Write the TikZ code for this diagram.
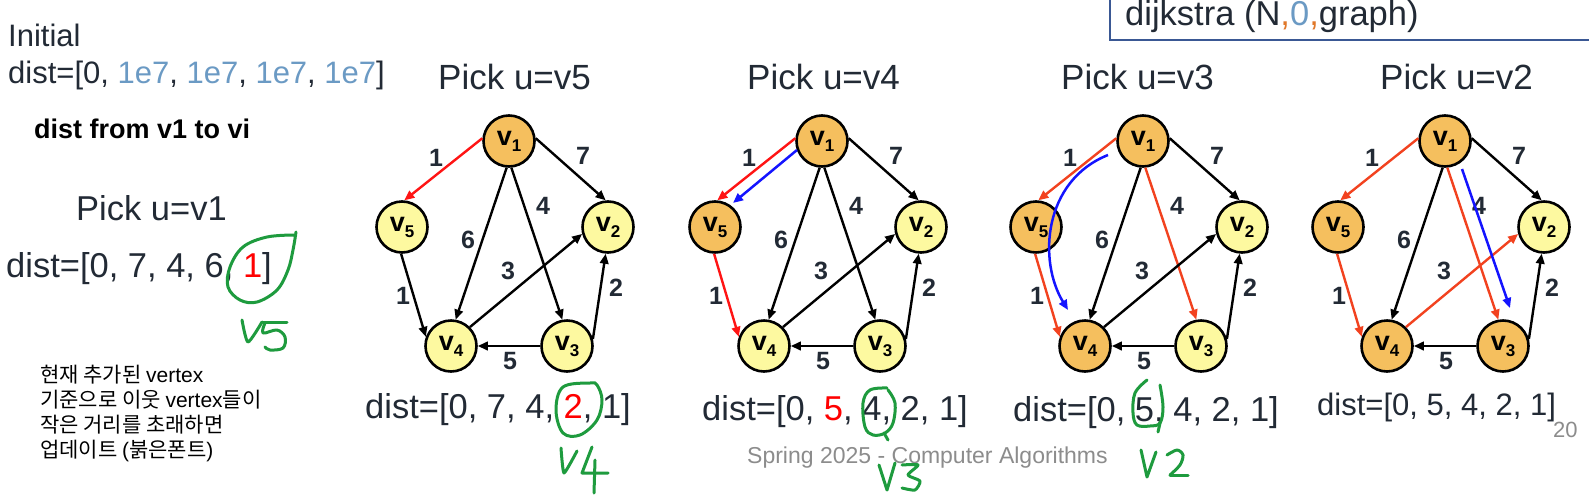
\documentclass[tikz,border=0pt]{standalone}
\usepackage{fontspec}
\setmainfont{Liberation Sans}
\newfontfamily\krfont{Noto Sans CJK KR}
\usetikzlibrary{arrows.meta}

\definecolor{tdark}{HTML}{222A35}
\definecolor{blueE}{HTML}{6B9AC4}
\definecolor{corange}{HTML}{E0782A}
\definecolor{boxblue}{HTML}{3A5894}
\definecolor{vyellow}{HTML}{FDF9A0}
\definecolor{vorange}{HTML}{F5BF5E}
\definecolor{ered}{HTML}{FF1414}
\definecolor{ered2}{HTML}{F2421F}
\definecolor{eblue}{HTML}{1414FF}
\definecolor{hgreen}{HTML}{1E9B3E}
\definecolor{fgray}{HTML}{8C8C8C}

\newcommand\vl[1]{v\raisebox{-6pt}{\fontsize{17}{17}\selectfont #1}}
\newcommand\lat[1]{{\normalfont #1}}

\tikzset{
  vtx/.style={circle, draw=black, line width=2.6pt, minimum size=51pt, inner sep=0pt,
    font=\bfseries\fontsize{27}{27}\selectfont},
  edge/.style={line width=2.4pt, -{Triangle[length=10pt,width=8.5pt]}},
  bluearr/.style={line width=2.5pt, draw=eblue, -{Triangle[length=10pt,width=8.5pt]}},
  wlab/.style={inner sep=0pt, font=\bfseries\fontsize{25}{25}\selectfont, text=tdark},
  txt/.style={anchor=base west, inner sep=0pt, text=tdark, font=\fontsize{34.5}{40}\selectfont},
  krtxt/.style={anchor=base west, inner sep=0pt, text=black, font=\krfont\fontsize{21}{24}\selectfont},
  hand/.style={draw=hgreen, line width=3pt, line cap=round, line join=round},
}

\newcommand\pentagraph[3]{%
\begin{scope}[shift={(#2,#3)}, name prefix=#1]
\node[vtx, fill=\fA] (v1) at (0,0) {\vl{1}};
\node[vtx, fill=\fB] (v2) at (99,86) {\vl{2}};
\node[vtx, fill=\fC] (v3) at (58,205) {\vl{3}};
\node[vtx, fill=\fD] (v4) at (-58,205) {\vl{4}};
\node[vtx, fill=\fE] (v5) at (-107,86) {\vl{5}};
\draw[edge, draw=\eA] (v1.174) -- (v5.85);
\draw[edge, draw=\eB] (v1.6) -- (v2.95);
\draw[edge, draw=\eC] (v1.265) -- (v4.80);
\draw[edge, draw=\eD] (v1.275) -- (v3.100);
\draw[edge, draw=\eE] (v5.268) -- (v4.160);
\draw[edge, draw=\eF] (v4.45) -- (v2.195);
\draw[edge, draw=\eG] (v3.15) -- (v2.265);
\draw[edge, draw=\eH] (v3.180) -- (v4.0);
\node[wlab] (w15) at (-73,17) {1};
\node[wlab] (w12) at (74,15) {7};
\node[wlab] (w14) at (-41,99) {6};
\node[wlab] (w13) at (34,65) {4};
\node[wlab] (w42) at (-1,130) {3};
\node[wlab] (w54) at (-106,155) {1};
\node[wlab] (w32) at (107,147) {2};
\node[wlab] (w34) at (1,220) {5};
\end{scope}}

\begin{document}
\begin{tikzpicture}[x=1pt, y=-1pt]
\fill[white] (0,0) rectangle (1589,498);
\useasboundingbox (0,0) rectangle (1589,498);

% top-right box
\draw[draw=boxblue, line width=2pt] (1110,-10) -- (1110,40) -- (1600,40);
\node[txt] (dij) at (1125,25) {dijkstra (N\textcolor{corange}{,}\textcolor{blueE}{0}\textcolor{corange}{,}graph)};

% left column
\node[txt, font=\fontsize{31}{36}\selectfont] (init) at (8,46) {Initial};
\node[txt, font=\fontsize{31}{36}\selectfont] (d0) at (8,83) {dist=[0, \textcolor{blueE}{1e7}, \textcolor{blueE}{1e7}, \textcolor{blueE}{1e7}, \textcolor{blueE}{1e7}]};
\node[txt, text=black, font=\bfseries\fontsize{27}{32}\selectfont] (dfrom) at (34,138) {dist from v1 to vi};
\node[txt] (p1) at (76,220) {Pick u=v1};
\node[txt] (d1) at (6,277) {dist=[0, 7, 4, 6, \textcolor{red}{1}]};
\node[krtxt] (k1) at (40,382) {현재 추가된 \lat{vertex}};
\node[krtxt] (k2) at (40,407) {기준으로 이웃 \lat{vertex}들이};
\node[krtxt] (k3) at (40,432) {작은 거리를 초래하면};
\node[krtxt] (k4) at (40,457) {업데이트 \lat{(}붉은폰트\lat{)}};

% titles
\node[txt, font=\fontsize{35}{40}\selectfont] (t1) at (438,89) {Pick u=v5};
\node[txt, font=\fontsize{35}{40}\selectfont] (t2) at (747,89) {Pick u=v4};
\node[txt, font=\fontsize{35}{40}\selectfont] (t3) at (1061,89) {Pick u=v3};
\node[txt, font=\fontsize{35}{40}\selectfont] (t4) at (1380,89) {Pick u=v2};

% graph 1
\def\fA{vorange}\def\fB{vyellow}\def\fC{vyellow}\def\fD{vyellow}\def\fE{vyellow}
\def\eA{ered}\def\eB{black}\def\eC{black}\def\eD{black}\def\eE{black}\def\eF{black}\def\eG{black}\def\eH{black}
\pentagraph{a-}{509}{141}
% graph 2
\def\fA{vorange}\def\fB{vyellow}\def\fC{vyellow}\def\fD{vyellow}\def\fE{vorange}
\def\eA{ered}\def\eB{black}\def\eC{black}\def\eD{black}\def\eE{ered}\def\eF{black}\def\eG{black}\def\eH{black}
\pentagraph{b-}{822}{141}
% graph 3
\def\fA{vorange}\def\fB{vyellow}\def\fC{vyellow}\def\fD{vorange}\def\fE{vorange}
\def\eA{ered2}\def\eB{black}\def\eC{black}\def\eD{ered2}\def\eE{ered2}\def\eF{black}\def\eG{black}\def\eH{black}
\pentagraph{c-}{1143}{141}
% graph 4
\def\fA{vorange}\def\fB{vyellow}\def\fC{vorange}\def\fD{vorange}\def\fE{vorange}
\def\eA{ered2}\def\eB{black}\def\eC{black}\def\eD{ered2}\def\eE{ered2}\def\eF{ered2}\def\eG{black}\def\eH{black}
\pentagraph{d-}{1445}{141}

% blue annotation arrows
\coordinate (b2s) at (797,150);
\coordinate (b2e) at (733,203);
\draw[bluearr] (b2s) -- (b2e);
\coordinate (b3s) at (1108,155);
\coordinate (b3e) at (1068,310);
\draw[bluearr] (b3s) .. controls (1043,181) and (1038,261) .. (b3e);
\coordinate (b4s) at (1462,169);
\coordinate (b4e) at (1510,308);
\draw[bluearr] (b4s) -- (b4e);

% dist lines
\node[txt] (dd1) at (365,418) {dist=[0, 7, 4, \textcolor{red}{2}, 1]};
\node[txt] (dd2) at (702,420) {dist=[0, \textcolor{red}{5}, 4, 2, 1]};
\node[txt] (dd3) at (1013,421) {dist=[0, 5, 4, 2, 1]};
\node[txt, font=\fontsize{31}{36}\selectfont] (dd4) at (1317,415) {dist=[0, 5, 4, 2, 1]};

% footer
\node[txt, text=fgray, font=\fontsize{23}{26}\selectfont] (foot) at (747,463) {Spring 2025 - Computer Algorithms};
\node[txt, text=fgray, font=\fontsize{22}{26}\selectfont] (pg) at (1553,437) {20};

% handwriting
\draw[hand] plot[smooth, tension=0.6] coordinates {(295,235) (267,237) (243,247) (230,267) (228,287) (240,300) (257,302) (277,290) (288,270) (293,250) (296,232)};
\draw[hand] plot[smooth, tension=0.4] coordinates {(242,320) (248,342) (262,322)};
\draw[hand] (263,322) -- (287,322);
\draw[hand] plot[smooth, tension=0.6] coordinates {(265,323) (263,333) (277,330) (285,337) (283,348) (270,350) (265,347)};

\draw[hand] plot[smooth cycle, tension=0.6] coordinates {(590,383) (563,387) (556,410) (563,433) (580,435) (597,420) (602,400) (597,385)};
\draw[hand] plot[smooth, tension=0.3] coordinates {(561,448) (564,473) (577,451)};
\draw[hand] (592,447) -- (582,473) -- (608,473);
\draw[hand] (595,460) -- (594,493);

\draw[hand] plot[smooth, tension=0.6] coordinates {(887,388) (870,390) (863,403) (865,427) (873,435) (885,433) (893,423) (895,403) (888,390)};
\draw[hand] (884,433) -- (888,440);
\draw[hand] (879,465) -- (887,490) -- (895,463);
\draw[hand] plot[smooth, tension=0.4] coordinates {(902,465) (918,465) (908,475) (920,481) (915,490) (902,488)};

\draw[hand] plot[smooth, tension=0.6] coordinates {(1147,380) (1135,393) (1133,413) (1137,425) (1150,426) (1160,423) (1163,407) (1160,385)};
\draw[hand] (1160,423) -- (1158,432);
\draw[hand] (1141,450) -- (1147,477) -- (1156,452);
\draw[hand] plot[smooth, tension=0.5] coordinates {(1167,455) (1177,450) (1183,455) (1180,465) (1170,475)};
\draw[hand] (1170,475) -- (1188,475);
\end{tikzpicture}
\end{document}
